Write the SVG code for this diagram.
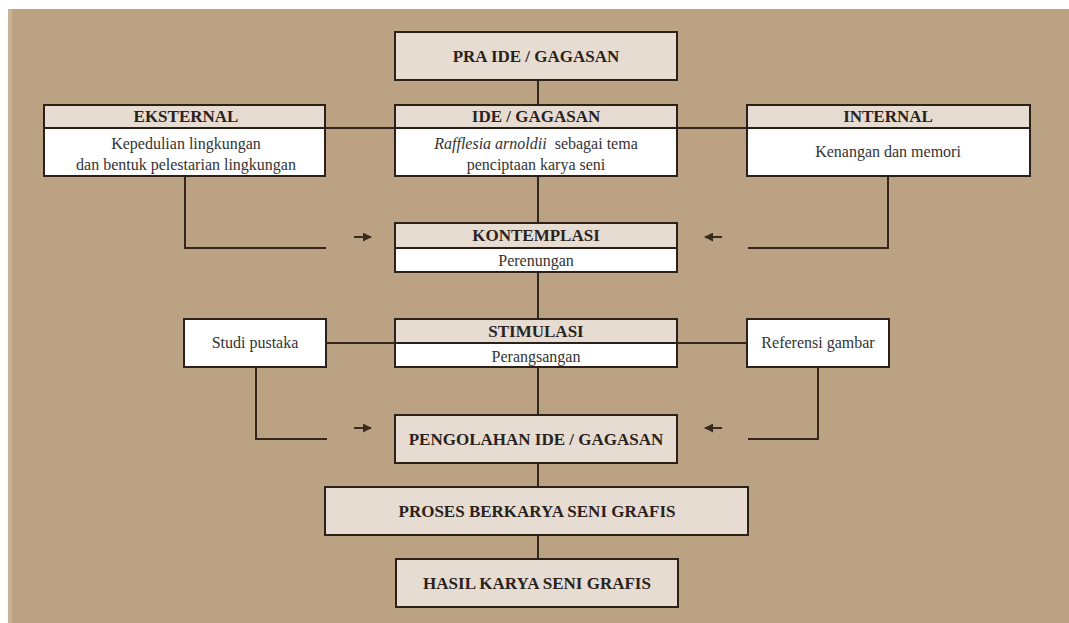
<svg xmlns="http://www.w3.org/2000/svg" width="1069" height="623" viewBox="0 0 1069 623">
<defs>
<style>
.bg{fill:#bba282}
.box{stroke:#2b211a;stroke-width:2}
.hd{fill:#e6dcd1}
.wh{fill:#ffffff}
.ln{stroke:#34261c;stroke-width:2;fill:none}
.b{font-weight:bold;font-size:17px;fill:#2a221c;text-anchor:middle}
.r{font-size:16px;fill:#333;text-anchor:middle}
.ar{stroke:#3a2a1f;stroke-width:2;fill:none}
</style>
<marker id="ah" viewBox="0 0 10 10" refX="9" refY="5" markerWidth="4.5" markerHeight="4.5" orient="auto">
<path d="M0,0 L10,5 L0,10 z" fill="#3a2a1f"/>
</marker>
</defs>
<rect class="bg" x="8" y="9" width="1061" height="614"/>
<rect x="8" y="9" width="4" height="614" fill="#c9b292"/>

<g id="connectors">
<line class="ln" x1="538" y1="80" x2="538" y2="105"/>
<line class="ln" x1="325" y1="128" x2="395" y2="128"/>
<line class="ln" x1="677" y1="128" x2="747" y2="128"/>
<line class="ln" x1="538" y1="176" x2="538" y2="223"/>
<polyline class="ln" points="185,176 185,248 326,248"/>
<polyline class="ln" points="888,176 888,248 748,248"/>
<line class="ln" x1="538" y1="272" x2="538" y2="319"/>
<line class="ln" x1="326" y1="343" x2="395" y2="343"/>
<line class="ln" x1="677" y1="343" x2="747" y2="343"/>
<line class="ln" x1="538" y1="367" x2="538" y2="415"/>
<polyline class="ln" points="256,367 256,439 327,439"/>
<polyline class="ln" points="818,367 818,439 748,439"/>
<line class="ln" x1="538" y1="463" x2="538" y2="487"/>
<line class="ln" x1="538" y1="535" x2="538" y2="559"/>
<line class="ar" x1="354" y1="237" x2="371" y2="237" marker-end="url(#ah)"/>
<line class="ar" x1="722" y1="237" x2="705" y2="237" marker-end="url(#ah)"/>
<line class="ar" x1="354" y1="428" x2="371" y2="428" marker-end="url(#ah)"/>
<line class="ar" x1="722" y1="428" x2="705" y2="428" marker-end="url(#ah)"/>
</g>

<g font-family="'Liberation Serif', 'DejaVu Serif', serif">
<g id="pra-ide">
<rect class="box hd" x="395" y="32" width="282" height="48"/>
<text class="b" x="536" y="62">PRA IDE / GAGASAN</text>
</g>

<g id="eksternal">
<rect class="box wh" x="44" y="105" width="281" height="71"/>
<rect class="box hd" x="44" y="105" width="281" height="23"/>
<text class="b" x="186" y="122">EKSTERNAL</text>
<text class="r" x="186" y="149">Kepedulian lingkungan</text>
<text class="r" x="186" y="170">dan bentuk pelestarian lingkungan</text>
</g>

<g id="ide">
<rect class="box wh" x="395" y="105" width="282" height="71"/>
<rect class="box hd" x="395" y="105" width="282" height="23"/>
<text class="b" x="536" y="122">IDE / GAGASAN</text>
<text class="r" x="536" y="149"><tspan font-style="italic">Rafflesia arnoldii</tspan>&#160; sebagai tema</text>
<text class="r" x="536" y="170">penciptaan karya seni</text>
</g>

<g id="internal">
<rect class="box wh" x="747" y="105" width="283" height="71"/>
<rect class="box hd" x="747" y="105" width="283" height="23"/>
<text class="b" x="888" y="122">INTERNAL</text>
<text class="r" x="888" y="157">Kenangan dan memori</text>
</g>

<g id="kontemplasi">
<rect class="box wh" x="395" y="223" width="282" height="49"/>
<rect class="box hd" x="395" y="223" width="282" height="25"/>
<text class="b" x="536" y="241">KONTEMPLASI</text>
<text class="r" x="536" y="266">Perenungan</text>
</g>

<g id="studi-pustaka">
<rect class="box wh" x="184" y="319" width="142" height="48"/>
<text class="r" x="255" y="348">Studi pustaka</text>
</g>

<g id="stimulasi">
<rect class="box wh" x="395" y="319" width="282" height="48"/>
<rect class="box hd" x="395" y="319" width="282" height="24"/>
<text class="b" x="536" y="337">STIMULASI</text>
<text class="r" x="536" y="362">Perangsangan</text>
</g>

<g id="referensi-gambar">
<rect class="box wh" x="747" y="319" width="142" height="48"/>
<text class="r" x="818" y="348">Referensi gambar</text>
</g>

<g id="pengolahan">
<rect class="box hd" x="395" y="415" width="282" height="48"/>
<text class="b" x="536" y="445">PENGOLAHAN IDE / GAGASAN</text>
</g>

<g id="proses">
<rect class="box hd" x="325" y="487" width="423" height="48"/>
<text class="b" x="537" y="517">PROSES BERKARYA SENI GRAFIS</text>
</g>

<g id="hasil">
<rect class="box hd" x="396" y="559" width="282" height="48"/>
<text class="b" x="537" y="589">HASIL KARYA SENI GRAFIS</text>
</g>
</g>
</svg>
